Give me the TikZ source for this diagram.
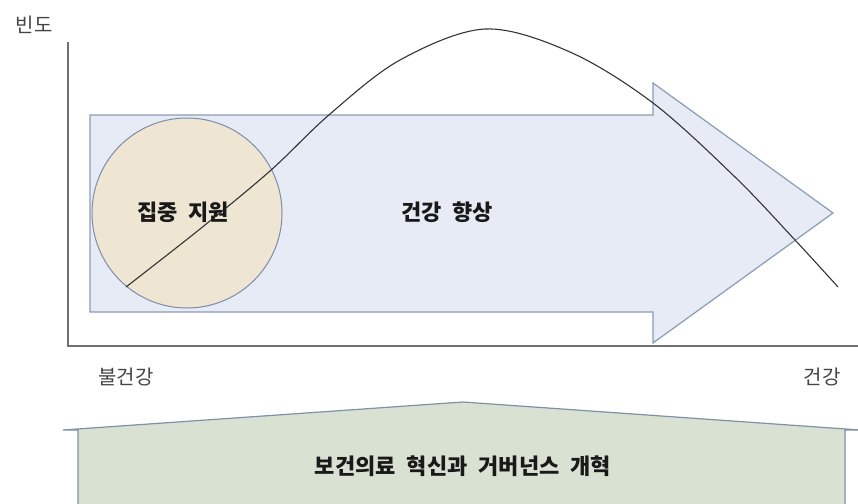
\documentclass[tikz,border=0pt]{standalone}
\usepackage{fontspec}
\newfontfamily\kr{Noto Sans CJK KR}
\definecolor{arrowfill}{HTML}{E6EBF5}
\definecolor{arrowline}{HTML}{8C9BB4}
\definecolor{circfill}{HTML}{EEE6D3}
\definecolor{circline}{HTML}{7D8CA8}
\definecolor{basefill}{HTML}{D8E1D2}
\definecolor{baseline}{HTML}{8090A8}
\definecolor{axisgray}{HTML}{707070}
\definecolor{labgray}{HTML}{444444}
\tikzset{
  boldlab/.style={font=\kr\bfseries\fontsize{22}{25}\selectfont, text=black!90, inner sep=0pt},
  axlab/.style={font=\kr\fontsize{20}{23}\selectfont, text=labgray, inner sep=0pt},
  baselab/.style={font=\kr\bfseries\fontsize{22}{25}\selectfont, text=black!90, inner sep=0pt},
}
\begin{document}
\begin{tikzpicture}[x=1pt,y=-1pt]
\useasboundingbox (0,0) rectangle (858,503);
% big arrow
\draw[fill=arrowfill, draw=arrowline, line width=1.2pt, line join=miter]
  (90,115) -- (653,115) -- (653,83) -- (833,213) -- (653,343) -- (653,312) -- (90,312) -- cycle;
% circle
\draw[fill=circfill, draw=circline, line width=1pt] (187,213) circle[radius=95];
% axes
\draw[axisgray, line width=1.5pt] (68,42) -- (68,346) -- (858,346);
% curve
\draw[black!80, line width=1.1pt] plot[smooth, tension=0.55] coordinates {
  (126,287) (200,229) (270,171) (330,114) (400,60)
  (485,29) (570,52) (653,103) (735,177) (795,240) (838,287)};
% base shape
\draw[fill=basefill, draw=baseline, line width=1.2pt, line join=miter]
  (78,510) -- (78,430) -- (63,430) -- (463,402) -- (860,430) -- (845,430) -- (845,510);
% labels
\node[axlab] (freq) at (34,25) {빈도};
\node[axlab] (unhealthy) at (126,377) {불건강};
\node[axlab] (healthy) at (822,377) {건강};
\node[boldlab] (focus) at (183,212) {집중\hspace{0.5em}지원};
\node[boldlab] (improve) at (447,212) {건강\hspace{0.5em}향상};
\node[baselab] (reform) at (463,466) {보건의료\hspace{0.5em}혁신과\hspace{0.5em}거버넌스\hspace{0.5em}개혁};
\end{tikzpicture}
\end{document}
